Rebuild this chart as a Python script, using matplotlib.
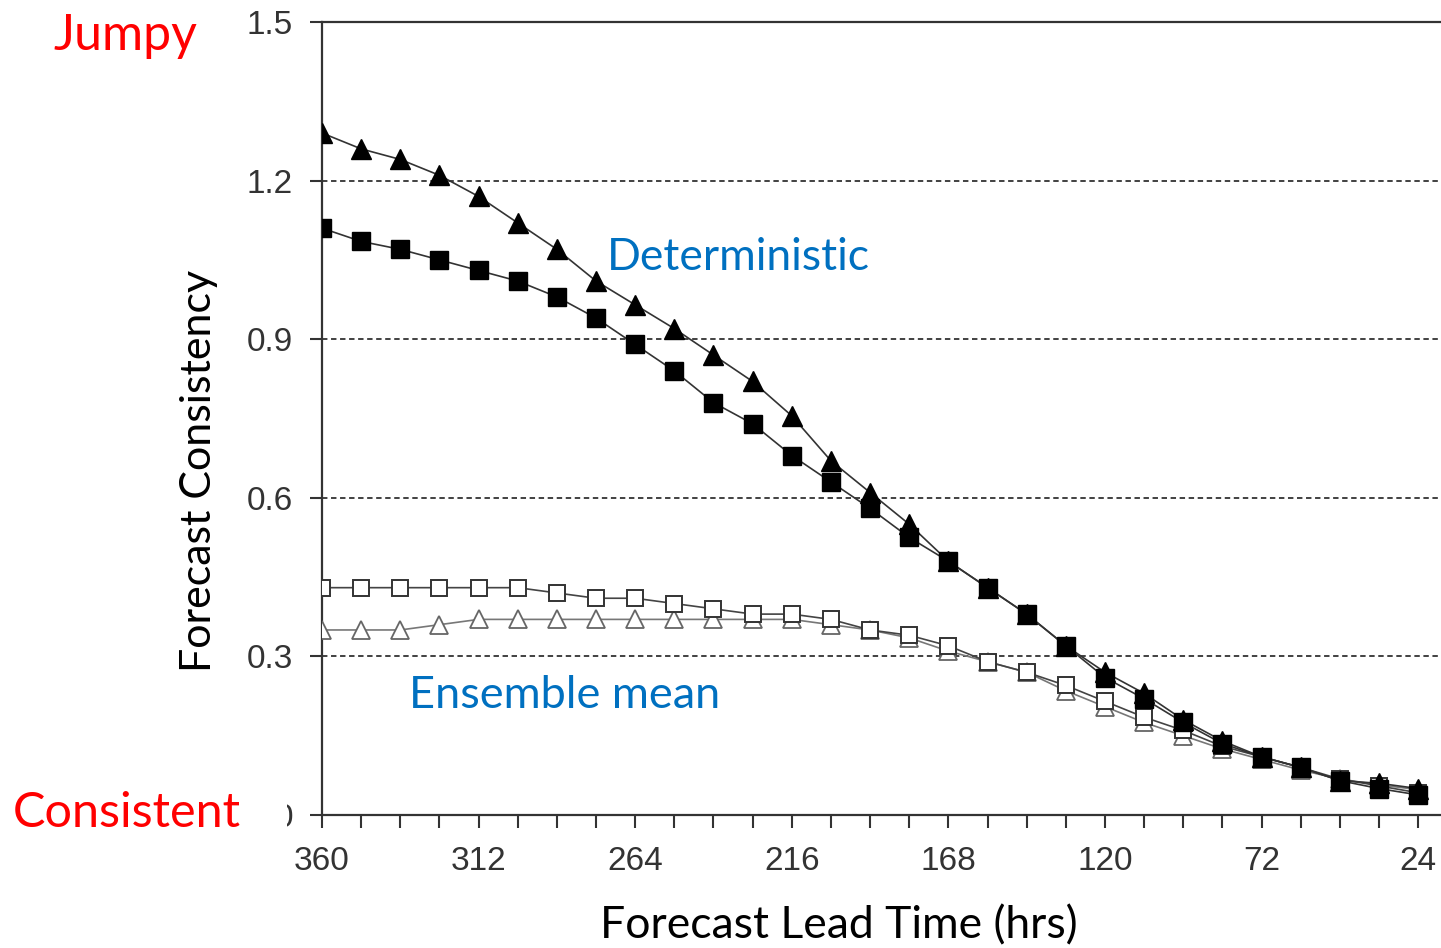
import numpy as np
import matplotlib.pyplot as plt
from matplotlib.patches import Rectangle

lead = np.arange(360, 23, -12)

det_tri = [1.29, 1.26, 1.24, 1.21, 1.17, 1.12, 1.07, 1.01, 0.965, 0.92, 0.87, 0.82, 0.755,
           0.67, 0.61, 0.55, 0.48, 0.43, 0.38, 0.32, 0.27, 0.23, 0.18, 0.14, 0.11, 0.09,
           0.065, 0.06, 0.05]
det_sq = [1.11, 1.085, 1.07, 1.05, 1.03, 1.01, 0.98, 0.94, 0.89, 0.84, 0.78, 0.74, 0.68,
          0.63, 0.58, 0.525, 0.48, 0.43, 0.38, 0.32, 0.26, 0.22, 0.175, 0.135, 0.11, 0.09,
          0.065, 0.05, 0.038]
ens_sq = [0.43, 0.43, 0.43, 0.43, 0.43, 0.43, 0.42, 0.41, 0.41, 0.40, 0.39, 0.38, 0.38,
          0.37, 0.35, 0.34, 0.32, 0.29, 0.27, 0.245, 0.215, 0.185, 0.16, 0.13, 0.11, 0.09,
          0.068, 0.055, 0.042]
ens_tri = [0.35, 0.35, 0.35, 0.36, 0.37, 0.37, 0.37, 0.37, 0.37, 0.37, 0.37, 0.37, 0.37,
           0.36, 0.35, 0.335, 0.31, 0.29, 0.27, 0.235, 0.205, 0.175, 0.15, 0.125, 0.105,
           0.085, 0.068, 0.057, 0.048]

xlabels = [360, 312, 264, 216, 168, 120, 72, 24]
ylevels = [0, 0.3, 0.6, 0.9, 1.2, 1.5]

fig = plt.figure(figsize=(14.41, 9.48), dpi=100)
ax = fig.add_axes([322/1441, 1-815/948, 1-322/1441, (815-22)/948])

# grid
for y in ylevels[1:-1]:
    ax.axhline(y, color='#333333', lw=1.3, ls=(0, (3, 2)), zorder=1)

ax.plot(lead, ens_tri, color='#777777', lw=1.2, marker='^', ms=13, mfc='white',
        mec='#666666', mew=1.3, zorder=3)
ax.plot(lead, ens_sq, color='#444444', lw=1.2, marker='s', ms=11.5, mfc='white',
        mec='#333333', mew=1.4, zorder=3)
ax.plot(lead, det_tri, color='#333333', lw=1.2, marker='^', ms=15, mfc='black',
        mec='black', zorder=4)
ax.plot(lead, det_sq, color='#333333', lw=1.2, marker='s', ms=12.5, mfc='black',
        mec='black', zorder=4)

ax.set_xlim(360, 17)
ax.set_ylim(0, 1.5)
ax.set_xticks(xlabels)
ax.set_xticks(lead, minor=True)
ax.set_xticklabels([str(v) for v in xlabels])
ax.set_yticks(ylevels)
ax.set_yticklabels(['0', '0.3', '0.6', '0.9', '1.2', '1.5'])

for s in ['left', 'bottom', 'top']:
    ax.spines[s].set_color('#333333')
    ax.spines[s].set_linewidth(1.6)
ax.spines['right'].set_visible(False)

ax.tick_params(which='both', direction='out', length=9, width=1.5, color='#333333')
ax.tick_params(axis='x', which='both', pad=13)
ax.tick_params(axis='y', pad=12)
for lab in ax.get_xticklabels() + ax.get_yticklabels():
    lab.set_fontfamily('Liberation Sans')
    lab.set_fontsize(24)
    lab.set_color('#333333')

fig.text(839/1441, 1-926/948, 'Forecast Lead Time (hrs)', family='Lato', fontsize=32,
         ha='center', va='center', color='black')
fig.text(199/1441, 1-471/948, 'Forecast Consistency', family='Lato', fontsize=31,
         ha='center', va='center', rotation=90, color='black')

fig.text(125/1441, 1-36/948, 'Jumpy', family='Lato', fontsize=36, color='red',
         ha='center', va='center')
# white block hiding most of the "0" label, as in the source slide
fig.add_artist(Rectangle((0, 1-840/948), 287/1441, 50/948, transform=fig.transFigure,
                         facecolor='white', edgecolor='none', zorder=9))
fig.text(13/1441, 1-813/948, 'Consistent', family='Lato', fontsize=35, color='red',
         ha='left', va='center', zorder=10)

ax.text(607/1441, 1-257/948, 'Deterministic', transform=fig.transFigure, family='Lato',
        fontsize=32, color='#0070C0', ha='left', va='center')
ax.text(409/1441, 1-696/948, 'Ensemble mean', transform=fig.transFigure, family='Lato',
        fontsize=32.5, color='#0070C0', ha='left', va='center')

fig.savefig('out.png', dpi=100)
